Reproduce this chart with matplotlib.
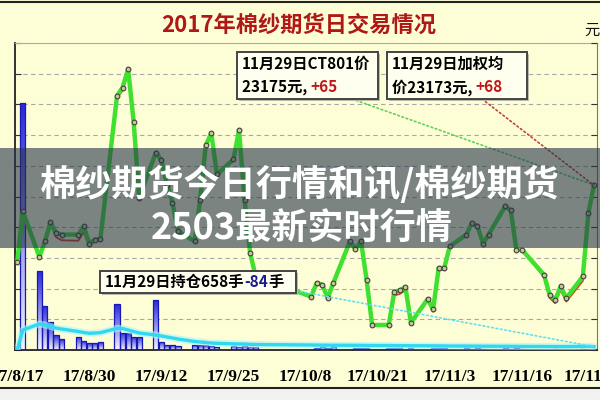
import datetime
import numpy as np
import matplotlib
matplotlib.use('Agg')
import matplotlib.pyplot as plt
import matplotlib.dates as mdates
from matplotlib.patches import Rectangle, ConnectionPatch
from matplotlib.colors import LinearSegmentedColormap
from matplotlib.offsetbox import TextArea, HPacker, AnnotationBbox

plt.rcParams['font.family'] = ['Noto Sans CJK SC', 'DejaVu Sans']

# ---- data ----
dates = ['2017-08-17', '2017-08-18', '2017-08-21', '2017-08-22', '2017-08-23', '2017-08-24',
         '2017-08-25', '2017-08-28', '2017-08-29', '2017-08-30', '2017-08-31', '2017-09-01',
         '2017-09-04', '2017-09-05', '2017-09-06', '2017-09-07', '2017-09-08', '2017-09-11',
         '2017-09-12', '2017-09-13', '2017-09-14', '2017-09-15', '2017-09-18', '2017-09-19',
         '2017-09-20', '2017-09-21', '2017-09-22', '2017-09-25', '2017-09-26', '2017-09-27',
         '2017-09-28', '2017-09-29', '2017-10-09', '2017-10-10', '2017-10-11', '2017-10-12',
         '2017-10-13', '2017-10-16', '2017-10-17', '2017-10-18', '2017-10-19', '2017-10-20',
         '2017-10-23', '2017-10-24', '2017-10-25', '2017-10-26', '2017-10-27', '2017-10-30',
         '2017-10-31', '2017-11-01', '2017-11-02', '2017-11-03', '2017-11-06', '2017-11-07',
         '2017-11-08', '2017-11-09', '2017-11-10', '2017-11-13', '2017-11-14', '2017-11-15',
         '2017-11-16', '2017-11-20', '2017-11-21', '2017-11-22', '2017-11-23', '2017-11-24',
         '2017-11-27', '2017-11-28', '2017-11-29']

# CY801 close price (yuan)
price = [22675, 23004, 22706, 22808, 22932, 22863,
         22852, 22852, 22906, 22793, 22819, 22824,
         23756, 23810, 23930, 23586, 23092, 23386,
         23337, 23178, 23059, 22873, 22808, 23080,
         23433, 23512, 23244, 23342, 23533, 23080,
         22732, 22579, 22448, 22536, 22525, 22438,
         22536, 22808, 22758, 22808, 22558, 22263,
         22263, 22481, 22488, 22510, 22278, 22431,
         22366, 22634, 22634, 22775, 22852, 22928,
         22906, 22793, 22852, 23037, 23010, 22754,
         22754, 22590, 22459, 22427, 22514, 22438,
         22579, 22993, 23175]

# weighted average price
avg_price = [22675, 23004, 22700, 22800, 22920, 22835,
             22815, 22812, 22868, 22776, 22808, 22818,
             23740, 23790, 23915, 23590, 23100, 23380,
             23330, 23170, 23050, 22870, 22805, 23070,
             23425, 23505, 23240, 23335, 23525, 23075,
             22730, 22575, 22445, 22530, 22520, 22430,
             22530, 22800, 22750, 22805, 22550, 22260,
             22260, 22455, 22465, 22490, 22270, 22420,
             22350, 22620, 22625, 22770, 22850, 22925,
             22900, 22790, 22850, 23035, 23005, 22750,
             22752, 22575, 22440, 22405, 22490, 22415,
             22550, 22972, 23173]

# daily volume (lots)
volume = [0, 49400, 15860, 8860, 5540, 3000,
          2140, 2660, 1800, 1340, 1340, 1540,
          9140, 3460, 3460, 2660, 2660, 10000,
          1660, 1000, 1000, 800, 1000, 1000,
          1000, 900, 700, 800, 700, 800,
          700, 600, 0, 500, 600, 500,
          600, 0, 500, 400, 500, 0,
          500, 400, 400, 0, 400, 0,
          500, 400, 500, 0, 400, 300,
          400, 300, 0, 400, 300, 400,
          300, 0, 0, 300, 0, 0,
          300, 0, 0]

# open interest (lots)
open_int = [0, 4000, 5200, 5000, 4700, 4400,
            4200, 3700, 3500, 3340, 3400, 3460,
            4340, 4300, 4000, 3700, 3400, 3000,
            2800, 2600, 2400, 2200, 1700, 1600,
            1500, 1400, 1340, 1240, 1200, 1200,
            1140, 1100, 1000, 980, 975, 960,
            950, 945, 930, 925, 910, 900,
            895, 880, 870, 865, 850, 840,
            835, 820, 815, 800, 790, 780,
            775, 760, 755, 740, 735, 725,
            715, 700, 695, 690, 685, 680,
            720, 742, 658]

tick_dates = ['2017-08-17', '2017-08-30', '2017-09-12', '2017-09-25', '2017-10-08',
              '2017-10-21', '2017-11-03', '2017-11-16', '2017-11-29']

title = '2017年棉纱期货日交易情况'
banner = ['棉纱期货今日行情和讯/棉纱期货', '2503最新实时行情']

BG = '#fefed6'


def to_num(ds):
    return mdates.date2num([datetime.datetime.strptime(d, '%Y-%m-%d') for d in ds])


def fy(y):
    # picture rows (top=0) -> figure pixels (bottom=0)
    return 400 - y


x = to_num(dates)
xt = to_num(tick_dates)

fig = plt.figure(figsize=(6, 4), dpi=100, facecolor=BG)
ax = fig.add_axes([15 / 600, 50 / 400, 582 / 600, 307 / 400])
ax.set_facecolor(BG)

# ---- volume bars with vertical gradient ----
vmax = 61400
cmap = LinearSegmentedColormap.from_list('vol', ['#f4f4ff', '#2a2ad8'])
grad = np.linspace(0, 1, 64).reshape(-1, 1)
bars = ax.bar(x, volume, width=0.92, color='none', edgecolor='#1818b8', lw=0.9, zorder=3)
for b in bars:
    h = b.get_height()
    if h <= 0:
        continue
    im = ax.imshow(grad, extent=[b.get_x(), b.get_x() + b.get_width(), 0, h],
                   origin='lower', aspect='auto', cmap=cmap, zorder=2)
    im.set_clip_path(b)

# open interest line with glow
ax.plot(x, open_int, color='#aaf4ff', lw=5, alpha=0.6, zorder=4, solid_capstyle='round')
ax.plot(x, open_int, color='#30d8f0', lw=2.4, zorder=5)

x0 = to_num(['2017-08-17'])[0] - 0.4
x1 = to_num(['2017-11-29'])[0] + 0.55
ax.set_xlim(x0, x1)
ax.set_ylim(0, vmax)
ax.set_yticks(np.linspace(0, vmax, 11))
ax.yaxis.grid(True, ls=(0, (4, 3)), color='#a8a8a8', lw=0.8)
ax.set_axisbelow(True)
ax.tick_params(axis='y', direction='in', length=4, labelleft=False, color='#333333')
ax.set_xticks(xt)
ax.set_xticklabels(['%d/%d/%d' % (int(d[2:4]), int(d[5:7]), int(d[8:10])) for d in tick_dates],
                   family='Liberation Serif', fontweight='bold', fontsize=12.5)
ax.tick_params(axis='x', length=0, pad=14)
for s, c in [('left', '#222222'), ('bottom', '#222222'), ('top', '#aaaaaa'), ('right', '#777777')]:
    ax.spines[s].set_color(c)
ax.spines['left'].set_linewidth(1.3)
ax.spines['bottom'].set_linewidth(1.3)

# ---- price lines ----
axp = ax.twinx()
axp.set_ylim(22100, 24100)
axp.set_yticks(np.linspace(22100, 24100, 11))
axp.tick_params(axis='y', direction='in', length=4, labelright=False, color='#333333')
axp.plot(x, avg_price, color='#d04020', lw=1.3, zorder=2)
axp.plot(x, price, color='#3fe030', lw=3.2, zorder=3,
         marker='o', ms=3.4, mfc='#c8c890', mec='#404040', mew=0.8)
axp.set_xlim(x0, x1)
for s in axp.spines.values():
    s.set_visible(False)

# ---- title and unit ----
fig.text(299 / 600, fy(25) / 400, title, ha='center', va='center', fontsize=16,
         fontweight='bold', color='#b01818')
fig.text(592 / 600, fy(30) / 400, '元', ha='center', va='center', fontsize=11, color='#111111')

# ---- outer frame ----
fig.add_artist(Rectangle((0, 0), 600, fy(388), transform=None, facecolor='#f2f2f0',
                         edgecolor='none', zorder=-5))
fig.add_artist(plt.Line2D([0, 600], [fy(388), fy(388)], transform=None, color='#222222', lw=1.5))
fig.add_artist(plt.Line2D([0, 600], [fy(2), fy(2)], transform=None, color='#222222', lw=1.5))


# ---- annotation boxes ----
def note_box(x_l, y_t, w, h, lines):
    fig.add_artist(Rectangle((x_l + 2, fy(y_t + h) - 2), w, h, transform=None,
                             facecolor='#bbbbaa', edgecolor='none', zorder=6))
    fig.add_artist(Rectangle((x_l, fy(y_t + h)), w, h, transform=None,
                             facecolor='#fffff0', edgecolor='#444444', lw=1.4, zorder=7))
    step = h / len(lines)
    for i, parts in enumerate(lines):
        pack = HPacker(children=[TextArea(t, textprops=dict(color=c, fontsize=11, fontweight='bold'))
                                 for t, c in parts], pad=0, sep=0)
        ab = AnnotationBbox(pack, (x_l + 5, fy(y_t + step * (i + 0.5))), xycoords='figure pixels',
                            box_alignment=(0, 0.5), frameon=False, pad=0, zorder=8)
        fig.add_artist(ab)


note_box(237, 52, 141, 47, [[('11月29日CT801价', 'black')],
                            [('23175元, ', 'black'), ('+65', '#c01818')]])
note_box(387, 52, 140, 47, [[('11月29日加权均', 'black')],
                            [('价23173元, ', 'black'), ('+68', '#c01818')]])
note_box(100, 271, 196, 22, [[('11月29日持仓658手', 'black'), ('-84', '#1a1a90'), ('手', 'black')]])

# dotted leaders from the boxes to the last points
for (bx, by), yv, axx, col in [((352, 99), price[-1], axp, '#60d060'),
                               ((482, 99), avg_price[-1], axp, '#c04040'),
                               ((292, 290), open_int[-1], ax, '#60e0f0')]:
    con = ConnectionPatch(xyA=(bx, fy(by)), coordsA='figure pixels', xyB=(x[-1], yv),
                          coordsB=axx.transData, color=col, ls=':', lw=1.2, zorder=4)
    fig.add_artist(con)

# ---- overlay banner ----
fig.add_artist(Rectangle((0, fy(248)), 600, 100, transform=None,
                         facecolor=(38 / 255, 51 / 255, 74 / 255), alpha=0.6,
                         edgecolor='none', zorder=20))
fig.text(300 / 600, fy(185) / 400, banner[0], ha='center', va='center', fontsize=26,
         fontweight='bold', color='white', zorder=21)
fig.text(302 / 600, fy(228) / 400, banner[1], ha='center', va='center', fontsize=26,
         fontweight='bold', color='white', zorder=21)

fig.savefig('out.png', dpi=100, facecolor=BG)
